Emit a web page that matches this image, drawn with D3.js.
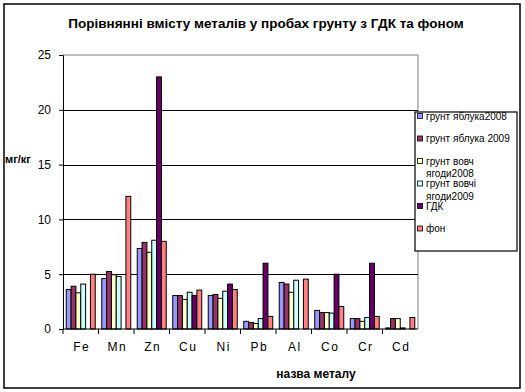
<!DOCTYPE html>
<html>
<head>
<meta charset="utf-8">
<script src="https://cdn.jsdelivr.net/npm/d3@7"></script>
<style>
  body { margin: 0; background: #fff; }
  svg { font-family: "Liberation Sans", Arial, sans-serif; display: block; }
</style>
</head>
<body>
<div id="chart"></div>
<script>
(function () {
    const W = 525, H = 392;
    // data (mg/kg)
    const metals = ["Fe", "Mn", "Zn", "Cu", "Ni", "Pb", "Al", "Co", "Cr", "Cd"];
    const apple2008 = [3.6, 4.6, 7.35, 3.05, 3.05, 0.7, 4.25, 1.7, 0.95, 0.1];
    const apple2009 = [3.9, 5.25, 7.9, 3.05, 3.15, 0.6, 4.1, 1.5, 0.95, 0.95];
    const berry2008 = [3.3, 4.95, 7.0, 2.7, 2.8, 0.5, 3.35, 1.5, 0.7, 0.95];
    const berry2009 = [4.1, 4.8, 8.1, 3.35, 3.45, 0.95, 4.45, 1.45, 1.05, 0.1];
    const gdk = [null, null, 23.0, 3.05, 4.1, 6.0, null, 5.0, 6.0, null];
    const background = [5.0, 12.1, 8.0, 3.55, 3.6, 1.15, 4.55, 2.05, 1.15, 1.05];
    const seriesNames = ["грунт яблука2008", "грунт яблука 2009", "грунт вовчі ягоди2008",
                         "грунт вовчі ягоди2009", "ГДК", "фон"];
    // how each legend label is wrapped in the reference
    const legendLines = [["грунт яблука2008"], ["грунт яблука 2009"], ["грунт вовч", "ягоди2008"],
                         ["грунт вовчі", "ягоди2009"], ["ГДК"], ["фон"]];
    const seriesColors = ["#9999FF", "#993366", "#FFFFCC", "#CCFFFF", "#660066", "#FF8080"];
    const yTicks = [0, 5, 10, 15, 20, 25];
    const allSeries = [apple2008, apple2009, berry2008, berry2009, gdk, background];

    const plot = {left: 63, right: 418, top: 55, bottom: 329};

    const svg = d3.select("#chart").append("svg")
        .attr("width", W).attr("height", H);

    // outer chart border
    svg.append("rect")
        .attr("x", 4).attr("y", 4).attr("width", 516).attr("height", 384)
        .attr("fill", "#fff").attr("stroke", "#000").attr("stroke-width", 1.5);

    const x0 = d3.scaleBand().domain(metals).range([plot.left, plot.right]).paddingInner(0).paddingOuter(0);
    const x1 = d3.scaleBand().domain(d3.range(seriesNames.length))
        .range([0, x0.bandwidth()]).paddingInner(0).paddingOuter(0.67);
    const y = d3.scaleLinear().domain([0, 25]).range([plot.bottom, plot.top]);

    // plot area border (grey top and right)
    svg.append("path")
        .attr("d", `M${plot.left},${plot.top}H${plot.right}V${plot.bottom}`)
        .attr("fill", "none").attr("stroke", "#808080").attr("stroke-width", 1);

    // gridlines
    svg.append("g").selectAll("line")
        .data(yTicks.filter(d => d > 0 && d < 25))
        .join("line")
        .attr("x1", plot.left).attr("x2", plot.right)
        .attr("y1", d => Math.round(y(d)) + 0.5).attr("y2", d => Math.round(y(d)) + 0.5)
        .attr("stroke", "#000").attr("stroke-width", 1);

    // bars
    const groups = svg.append("g").selectAll("g")
        .data(metals)
        .join("g")
        .attr("transform", d => `translate(${x0(d)},0)`);
    groups.selectAll("rect")
        .data((m, i) => allSeries.map((s, k) => ({k: k, v: s[i]})).filter(d => d.v != null))
        .join("rect")
        .attr("x", d => x1(d.k))
        .attr("width", x1.bandwidth())
        .attr("y", d => y(d.v))
        .attr("height", d => y(0) - y(d.v))
        .attr("fill", d => seriesColors[d.k])
        .attr("stroke", "#000").attr("stroke-width", 1);

    // y axis
    const yAxis = svg.append("g")
        .attr("transform", `translate(${plot.left},0)`)
        .call(d3.axisLeft(y).tickValues(yTicks).tickSize(4).tickPadding(8));
    yAxis.select(".domain").attr("stroke", "#000");
    yAxis.selectAll(".tick line").attr("stroke", "#000");
    yAxis.selectAll("text").attr("font-size", "12px").attr("fill", "#000")
        .attr("font-family", "Liberation Sans, Arial, sans-serif");

    // x axis: ticks between categories
    svg.append("line")
        .attr("x1", plot.left).attr("x2", plot.right)
        .attr("y1", plot.bottom).attr("y2", plot.bottom)
        .attr("stroke", "#000").attr("stroke-width", 1.2);
    svg.append("g").selectAll("line")
        .data(metals)
        .join("line")
        .attr("x1", d => x0(d)).attr("x2", d => x0(d))
        .attr("y1", plot.bottom).attr("y2", plot.bottom + 5)
        .attr("stroke", "#000");
    svg.append("g").selectAll("text")
        .data(metals)
        .join("text")
        .attr("x", d => x0(d) + x0.bandwidth() / 2 + 1)
        .attr("y", 351)
        .attr("text-anchor", "middle")
        .attr("font-size", "12px")
        .attr("letter-spacing", "1.5px")
        .text(d => d);

    // titles
    svg.append("text")
        .attr("x", 266).attr("y", 28)
        .attr("text-anchor", "middle")
        .attr("font-size", "13.5px").attr("font-weight", "bold")
        .text("Порівнянні вмісту металів у пробах грунту з ГДК та фоном");
    svg.append("text")
        .attr("x", 5).attr("y", 163)
        .attr("font-size", "11px").attr("font-weight", "bold")
        .text("мг/кг");
    svg.append("text")
        .attr("x", 316).attr("y", 378)
        .attr("text-anchor", "middle")
        .attr("font-size", "12px").attr("font-weight", "bold")
        .text("назва металу");

    // legend
    const legend = svg.append("g");
    legend.append("rect")
        .attr("x", 415).attr("y", 112).attr("width", 102).attr("height", 139)
        .attr("fill", "#fff").attr("stroke", "#000").attr("stroke-width", 1.2);
    const item = legend.selectAll("g.item")
        .data(seriesNames)
        .join("g")
        .attr("class", "item")
        .attr("transform", (d, i) => `translate(417,${116 + i * 22.5})`);
    item.append("rect")
        .attr("x", 0.5).attr("y", -2.5).attr("width", 5).attr("height", 5)
        .attr("fill", (d, i) => seriesColors[i])
        .attr("stroke", "#000").attr("stroke-width", 0.8);
    item.append("text")
        .attr("x", 9).attr("y", 3.5)
        .attr("font-size", "10px")
        .selectAll("tspan")
        .data((d, i) => legendLines[i])
        .join("tspan")
        .attr("x", 9)
        .attr("dy", (d, j) => j === 0 ? 0 : 12.5)
        .text(d => d);
})();
</script>
</body>
</html>
